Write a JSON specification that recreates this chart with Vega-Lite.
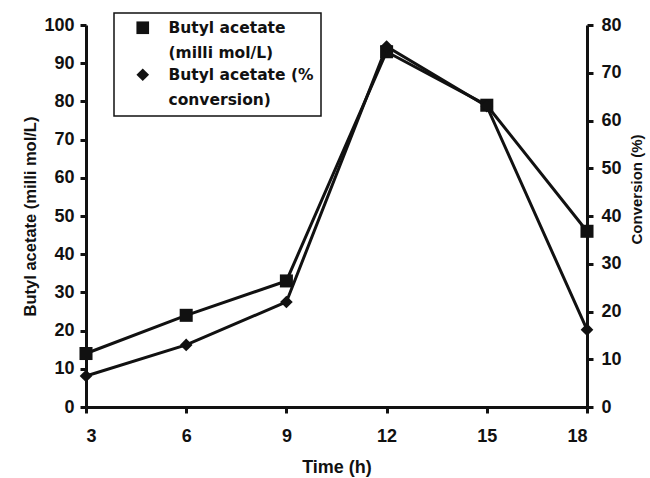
{
  "$schema": "https://vega.github.io/schema/vega-lite/v6.json",
  "autosize": "none",
  "width": 501,
  "height": 382,
  "padding": {"left": 86, "top": 25, "right": 63, "bottom": 71},
  "background": "white",
  "config": {
    "font": "Liberation Sans",
    "view": {"stroke": null},
    "axis": {
      "labelFont": "Liberation Sans", "labelFontWeight": "bold", "labelFontSize": 18, "labelColor": "#111",
      "titleFont": "Liberation Sans", "titleFontWeight": "bold", "titleFontSize": 16.5, "titleColor": "#111",
      "domainColor": "#111", "domainWidth": 3, "tickColor": "#111", "tickWidth": 3, "tickSize": 6,
      "grid": false
    },
    "legend": {"strokeColor": "#111", "strokeWidth": 1.5},
    "style": {"guide-label": {"lineHeight": 25}}
  },
  "data": {"values": [
    {"time": 3, "series": "mmol", "value": 14},
    {"time": 6, "series": "mmol", "value": 24},
    {"time": 9, "series": "mmol", "value": 33},
    {"time": 12, "series": "mmol", "value": 93},
    {"time": 15, "series": "mmol", "value": 79},
    {"time": 18, "series": "mmol", "value": 46},
    {"time": 3, "series": "conv", "value": 6.5},
    {"time": 6, "series": "conv", "value": 13},
    {"time": 9, "series": "conv", "value": 22},
    {"time": 12, "series": "conv", "value": 75.5},
    {"time": 15, "series": "conv", "value": 63},
    {"time": 18, "series": "conv", "value": 16.2}
  ]},
  "encoding": {
    "x": {"field": "time", "type": "quantitative",
      "scale": {"domain": [3, 18], "nice": false, "zero": false},
      "axis": {"values": [3, 6, 9, 12, 15, 18], "title": "Time (h)", "titleFontSize": 18, "titlePadding": 13, "labelPadding": 14}}
  },
  "layer": [
    {
      "transform": [{"filter": "datum.series == 'mmol'"}],
      "encoding": {
        "y": {"field": "value", "type": "quantitative",
          "scale": {"domain": [0, 100], "nice": false},
          "axis": {"orient": "left", "values": [0,10,20,30,40,50,60,70,80,90,100], "title": "Butyl acetate (milli mol/L)", "titlePadding": 5, "labelPadding": 6}}
      },
      "layer": [
        {"mark": {"type": "line", "color": "#111", "strokeWidth": 3}},
        {"mark": {"type": "point", "filled": true, "color": "#111", "opacity": 1, "size": 170},
         "encoding": {"shape": {"field": "series", "type": "nominal",
           "scale": {"domain": ["mmol", "conv"], "range": ["square", "diamond"]},
           "legend": {
             "orient": "none", "legendX": 28, "legendY": -12,
             "title": null,
             "padding": 7,
             "labelFont": "DejaVu Sans", "labelFontWeight": "bold", "labelFontSize": 15.5, "labelColor": "#111",
             "labelExpr": "datum.value == 'mmol' ? ['Butyl acetate', '(milli mol/L)'] : ['Butyl acetate (%', 'conversion)']",
             "labelLimit": 300, "labelOffset": 18,
             "symbolSize": 160, "symbolOffset": 14,
             "symbolFillColor": "#111", "symbolStrokeColor": "#111", "symbolStrokeWidth": 1,
             "rowPadding": 4,
             "encode": {
               "labels": {"baseline": {"value": "top"}, "dy": {"value": -9}}
             }
           }}}
        }
      ]
    },
    {
      "transform": [{"filter": "datum.series == 'conv'"}],
      "encoding": {
        "y": {"field": "value", "type": "quantitative",
          "scale": {"domain": [0, 80], "nice": false},
          "axis": {"orient": "right", "values": [0,10,20,30,40,50,60,70,80], "title": "Conversion (%)", "titleAngle": 270, "titleBaseline": "top", "titleFontSize": 15, "titleY": 164, "titlePadding": 8, "labelPadding": 8}}
      },
      "layer": [
        {"mark": {"type": "line", "color": "#111", "strokeWidth": 3}},
        {"mark": {"type": "point", "shape": "diamond", "filled": true, "color": "#111", "opacity": 1, "size": 160}}
      ]
    }
  ],
  "resolve": {"scale": {"y": "independent"}}
}
